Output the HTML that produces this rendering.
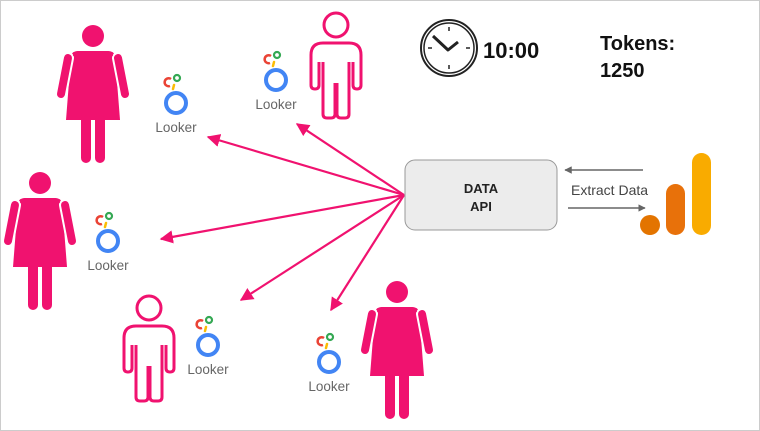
<!DOCTYPE html>
<html><head><style>
html,body{margin:0;padding:0;background:#fff}
svg{display:block}
text{font-family:"Liberation Sans",sans-serif}
</style></head><body>
<svg width="760" height="431" viewBox="0 0 760 431" xmlns="http://www.w3.org/2000/svg">
<defs>
<g id="woman" fill="#f0126f" stroke="none">
<circle cx="0" cy="0" r="11"/>
<path d="M-15,15 H15 Q21,15 22,20 L27,84 H-27 L-22,20 Q-21,15 -15,15Z"/>
<line x1="-25" y1="22" x2="-32" y2="58" stroke="#fff" stroke-width="12" stroke-linecap="round"/>
<line x1="25" y1="22" x2="32" y2="58" stroke="#fff" stroke-width="12" stroke-linecap="round"/>
<line x1="-25" y1="22" x2="-32" y2="58" stroke="#f0126f" stroke-width="8" stroke-linecap="round"/>
<line x1="25" y1="22" x2="32" y2="58" stroke="#f0126f" stroke-width="8" stroke-linecap="round"/>
<path d="M-15,15 H15 Q19,15 20,20 L-20,20 Q-19,15 -15,15Z"/>
<line x1="-7" y1="84" x2="-7" y2="122" stroke="#f0126f" stroke-width="10" stroke-linecap="round"/>
<line x1="7" y1="84" x2="7" y2="122" stroke="#f0126f" stroke-width="10" stroke-linecap="round"/>
</g>
<g id="man" fill="none" stroke="#f0126f" stroke-width="3" stroke-linejoin="round">
<circle cx="0" cy="0" r="12"/>
<path d="M-13,18 H13 Q25,18 25,30 V60 Q25,64 21,64 Q17,64 17,60 V37 M13,37 V89 Q13,93 9,93 H5 Q1,93 1,89 V58 M-1,58 V89 Q-1,93 -5,93 H-9 Q-13,93 -13,89 V37 M-17,37 V60 Q-17,64 -21,64 Q-25,64 -25,60 V30 Q-25,18 -13,18"/>
</g>
<g id="looker">
<circle cx="0" cy="0" r="10" fill="none" stroke="#4285f4" stroke-width="4"/>
<path d="M-6,-17 A4,4 0 1 1 -5,-24" fill="none" stroke="#ea4335" stroke-width="2.5"/>
<line x1="-3" y1="-14" x2="-2" y2="-18" stroke="#fbbc04" stroke-width="2.5" stroke-linecap="round"/>
<circle cx="1" cy="-25" r="3" fill="none" stroke="#34a853" stroke-width="2.2"/>
<text x="0" y="29" font-size="13.5" fill="#666" text-anchor="middle">Looker</text>
</g>
<marker id="ap" viewBox="0 0 10 10" refX="9" refY="5" markerWidth="6" markerHeight="6" orient="auto"><path d="M0,0 L10,5 L0,10 Z" fill="#f0126f"/></marker>
<marker id="ag" viewBox="0 0 10 10" refX="9" refY="5" markerWidth="5" markerHeight="5" orient="auto"><path d="M0,0 L10,5 L0,10 Z" fill="#666"/></marker>
</defs>
<rect x="0.5" y="0.5" width="759" height="430" fill="#fff" stroke="#ccc"/>
<use href="#woman" x="93" y="36"/>
<use href="#woman" x="40" y="183"/>
<use href="#woman" x="397" y="292"/>
<use href="#man" x="336" y="25"/>
<use href="#man" x="149" y="308"/>
<use href="#looker" x="176" y="103"/>
<use href="#looker" x="276" y="80"/>
<use href="#looker" x="108" y="241"/>
<use href="#looker" x="208" y="345"/>
<use href="#looker" x="329" y="362"/>
<g stroke="#f0126f" stroke-width="2.2" marker-end="url(#ap)">
<line x1="404" y1="195" x2="208" y2="137"/>
<line x1="404" y1="195" x2="297" y2="124"/>
<line x1="404" y1="195" x2="161" y2="239"/>
<line x1="404" y1="195" x2="241" y2="300"/>
<line x1="404" y1="195" x2="331" y2="310"/>
</g>
<g>
<circle cx="449" cy="48" r="28" fill="#fff" stroke="#222" stroke-width="2"/>
<circle cx="449" cy="48" r="25" fill="#fff" stroke="#222" stroke-width="1.5"/>
<g stroke="#222" stroke-width="1.5">
<line x1="449" y1="27" x2="449" y2="31"/><line x1="449" y1="65" x2="449" y2="69"/>
<line x1="428" y1="48" x2="432" y2="48"/><line x1="466" y1="48" x2="470" y2="48"/>
</g>
<path d="M433,36 L448,50 L458,42" fill="none" stroke="#222" stroke-width="3" stroke-linejoin="round"/>
</g>
<text x="483" y="58" font-size="22" font-weight="bold" fill="#111">10:00</text>
<text x="600" y="50" font-size="20" font-weight="bold" fill="#111">Tokens:</text>
<text x="600" y="77" font-size="20" font-weight="bold" fill="#111">1250</text>
<rect x="405" y="160" width="152" height="70" rx="10" fill="#ececec" stroke="#999"/>
<text x="481" y="193" font-size="13" font-weight="bold" fill="#222" text-anchor="middle">DATA</text>
<text x="481" y="211" font-size="13" font-weight="bold" fill="#222" text-anchor="middle">API</text>
<line x1="643" y1="170" x2="565" y2="170" stroke="#666" stroke-width="1.5" marker-end="url(#ag)"/>
<text x="571" y="195" font-size="14" fill="#444">Extract Data</text>
<line x1="568" y1="208" x2="645" y2="208" stroke="#666" stroke-width="1.5" marker-end="url(#ag)"/>
<circle cx="650" cy="225" r="10" fill="#e37400"/>
<rect x="666" y="184" width="19" height="51" rx="9.5" fill="#e8710a"/>
<rect x="692" y="153" width="19" height="82" rx="9.5" fill="#f9ab00"/>
</svg>
</body></html>
